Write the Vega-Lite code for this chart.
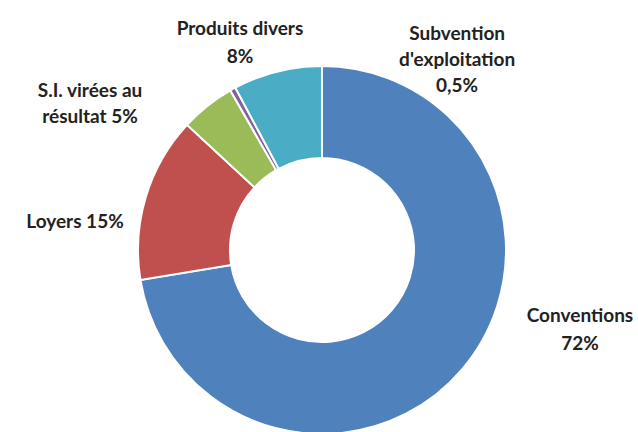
{
  "$schema": "https://vega.github.io/schema/vega-lite/v6.json",
  "width": 632,
  "height": 364,
  "padding": {"left": 6, "top": 68, "right": 0, "bottom": 0},
  "autosize": {"type": "none"},
  "background": "white",
  "config": {"view": {"stroke": null}},
  "data": {
    "values": [
      {"category": "Conventions", "value": 72.4, "label": "Conventions\n72%"},
      {"category": "Loyers", "value": 14.5, "label": "Loyers 15%"},
      {"category": "S.I. virées au résultat", "value": 4.8, "label": "S.I. virées au\nrésultat 5%"},
      {"category": "Subvention d'exploitation", "value": 0.5, "label": "Subvention\nd'exploitation\n0,5%"},
      {"category": "Produits divers", "value": 7.8, "label": "Produits divers\n8%"}
    ]
  },
  "transform": [{"window": [{"op": "row_number", "as": "idx"}]}],
  "encoding": {
    "theta": {"field": "value", "type": "quantitative", "stack": true},
    "order": {"field": "idx", "type": "quantitative"}
  },
  "layer": [
    {
      "mark": {"type": "arc", "innerRadius": 92, "outerRadius": 184, "stroke": "white", "strokeWidth": 2},
      "encoding": {
        "color": {
          "field": "category",
          "type": "nominal",
          "legend": null,
          "scale": {
            "domain": ["Conventions", "Loyers", "S.I. virées au résultat", "Subvention d'exploitation", "Produits divers"],
            "range": ["#4F81BD", "#C0504D", "#9BBB59", "#8064A2", "#4BACC6"]
          }
        }
      }
    },
    {
      "mark": {"type": "text", "radius": 243, "dx": 72.7, "dy": -85, "font": "Lato", "fontWeight": "bold", "fontSize": 19, "color": "#222222", "align": "center", "baseline": "alphabetic", "lineBreak": "\n", "lineHeight": 28},
      "encoding": {"text": {"condition": {"test": "datum.category === 'Conventions'", "field": "label"}, "value": ""}}
    },
    {
      "mark": {"type": "text", "radius": 243, "dx": -14.3, "dy": 48.3, "font": "Lato", "fontWeight": "bold", "fontSize": 19, "color": "#222222", "align": "center", "baseline": "alphabetic", "lineBreak": "\n", "lineHeight": 26},
      "encoding": {"text": {"condition": {"test": "datum.category === 'Loyers'", "field": "label"}, "value": ""}}
    },
    {
      "mark": {"type": "text", "radius": 264, "dx": -67.6, "dy": 53.3, "font": "Lato", "fontWeight": "bold", "fontSize": 19, "color": "#222222", "align": "center", "baseline": "alphabetic", "lineBreak": "\n", "lineHeight": 26.5},
      "encoding": {"text": {"condition": {"test": "datum.category === 'S.I. virées au résultat'", "field": "label"}, "value": ""}}
    },
    {
      "mark": {"type": "text", "radius": 200, "dx": 232, "dy": -35, "font": "Lato", "fontWeight": "bold", "fontSize": 19, "color": "#222222", "align": "center", "baseline": "alphabetic", "lineBreak": "\n", "lineHeight": 26},
      "encoding": {"text": {"condition": {"test": "datum.category === \"Subvention d'exploitation\"", "field": "label"}, "value": ""}}
    },
    {
      "mark": {"type": "text", "radius": 228, "dx": -26.7, "dy": 6.2, "font": "Lato", "fontWeight": "bold", "fontSize": 19, "color": "#222222", "align": "center", "baseline": "alphabetic", "lineBreak": "\n", "lineHeight": 28},
      "encoding": {"text": {"condition": {"test": "datum.category === 'Produits divers'", "field": "label"}, "value": ""}}
    }
  ]
}
